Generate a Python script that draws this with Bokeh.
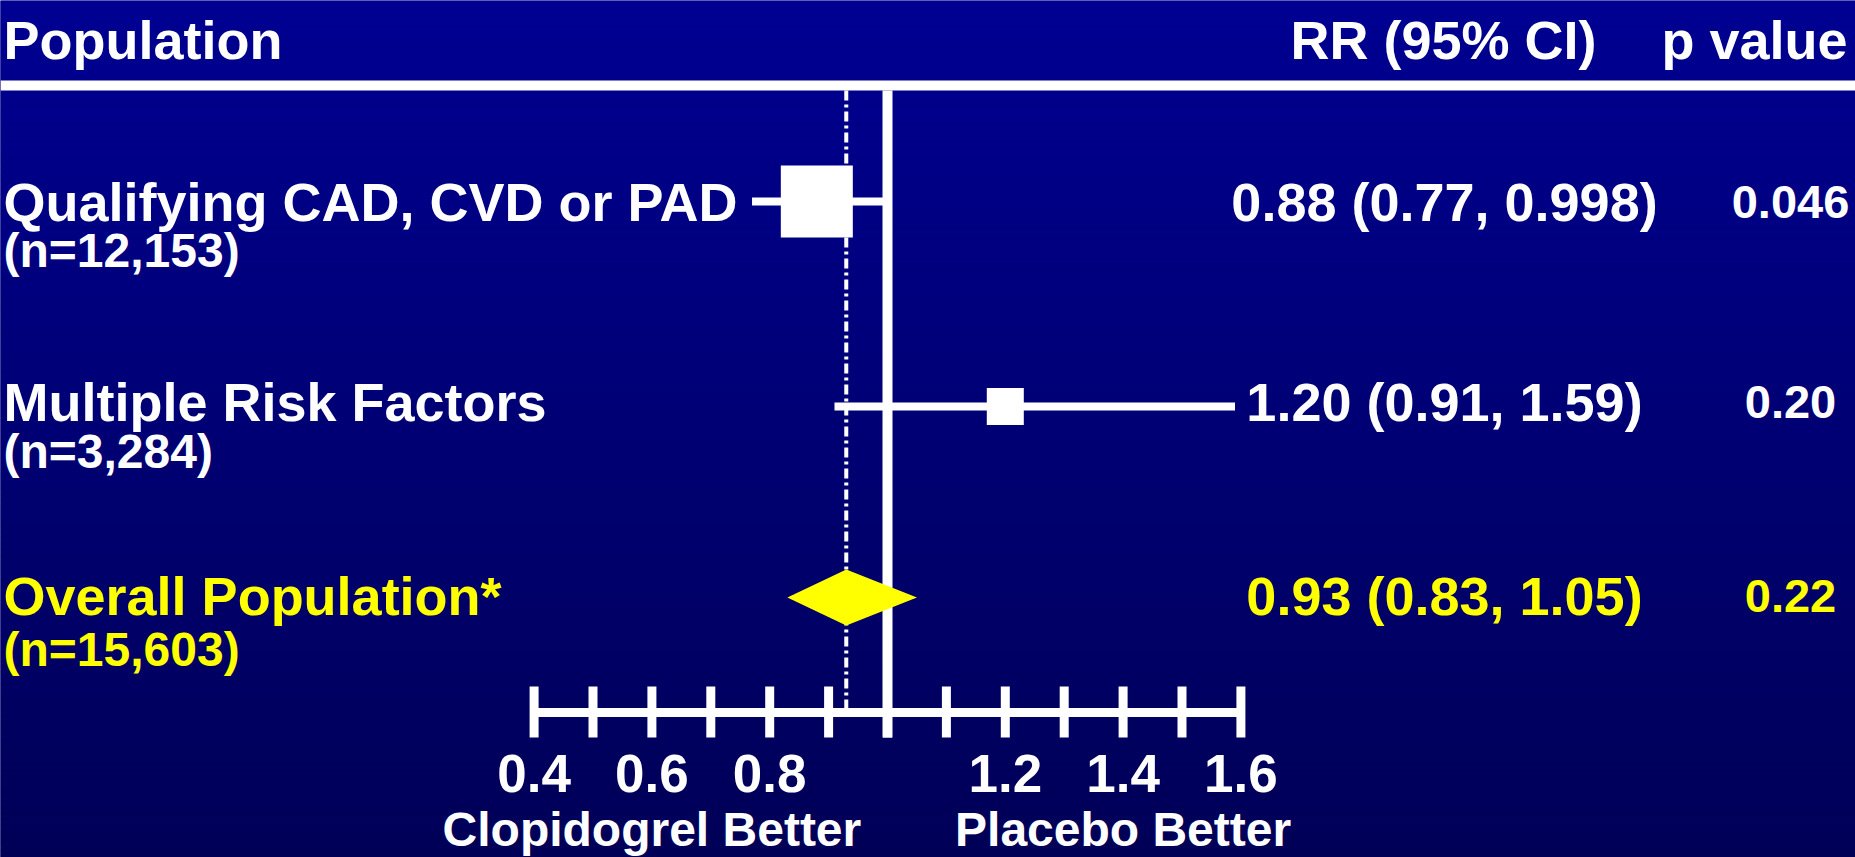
import numpy as np
from bokeh.plotting import figure
from bokeh.models import Range1d, Span
from bokeh.core.properties import value
from bokeh.embed import file_html
from bokeh.resources import INLINE

# ---------------- data ----------------
populations = ["Qualifying CAD, CVD or PAD", "Multiple Risk Factors", "Overall Population*"]
sample_sizes = ["(n=12,153)", "(n=3,284)", "(n=15,603)"]
rr = [0.88, 1.20, 0.93]
ci_low = [0.77, 0.91, 0.83]
ci_high = [0.998, 1.59, 1.05]
rr_labels = ["0.88 (0.77, 0.998)", "1.20 (0.91, 1.59)", "0.93 (0.83, 1.05)"]
p_values = ["0.046", "0.20", "0.22"]
axis_ticks = [0.4, 0.5, 0.6, 0.7, 0.8, 0.9, 1.0, 1.1, 1.2, 1.3, 1.4, 1.5, 1.6]
tick_label_values = [0.4, 0.6, 0.8, 1.2, 1.4, 1.6]
tick_labels = ["0.4", "0.6", "0.8", "1.2", "1.4", "1.6"]
headers = ["Population", "RR (95% CI)", "p value"]
direction_labels = ["Clopidogrel Better", "Placebo Better"]
direction_values = [0.6, 1.4]
reference_rr = 1.0

# ---------------- layout / style ----------------
W, H = 1855, 857
PX_ONE, PX_PER = 887.0, 589.0


def rx(px):
    """page pixel -> RR coordinate"""
    return 1 + (px - PX_ONE) / PX_PER


FONT = value("Liberation Sans")
WHITE = "#FFFFFF"
YELLOW = "#FFFF00"
row_colors = [WHITE, WHITE, YELLOW]
row_y = [201, 406, 597]
label_y = [201, 401, 595]
n_y = [250, 451, 649]
header_y = 39
box_px = [72, 37]
diamond_half_h = 28

p = figure(width=W, height=H, output_backend="svg", toolbar_location=None,
           x_range=Range1d(rx(0), rx(W)), y_range=Range1d(H, 0),
           x_axis_location=None, y_axis_location=None, min_border=0,
           outline_line_color=None, tools="")
p.grid.visible = False
p.background_fill_color = "#000078"
p.border_fill_color = "#000078"

# background gradient (decorative)
n_strips = 140
edges = np.linspace(0, H + 2, n_strips + 1)
top_c = np.array([0, 0, 146])
bot_c = np.array([0, 0, 86])
cols = []
for i in range(n_strips):
    t = i / (n_strips - 1)
    c = top_c + (bot_c - top_c) * t
    cols.append("#%02x%02x%02x" % tuple(int(round(v)) for v in c))
p.quad(left=rx(-5), right=rx(W + 5), top=edges[:-1], bottom=edges[1:],
       fill_color=cols, line_color=None)

# header rule
p.add_layout(Span(location=85, dimension="width", line_color=WHITE, line_width=10))

# dotted line at overall RR
p.segment(x0=[rr[2]], x1=[rr[2]], y0=[90], y1=[712], line_color=WHITE,
          line_width=4, line_dash="10 4 3 4")
# line of no effect
p.segment(x0=[reference_rr], x1=[reference_rr], y0=[90], y1=[737],
          line_color=WHITE, line_width=10)

# axis
p.segment(x0=[axis_ticks[0]], x1=[axis_ticks[-1]], y0=[712], y1=[712],
          line_color=WHITE, line_width=9)
p.segment(x0=axis_ticks, x1=axis_ticks, y0=[686] * len(axis_ticks),
          y1=[737] * len(axis_ticks), line_color=WHITE, line_width=9)

# CI lines and boxes (first two rows)
p.segment(x0=ci_low[:2], x1=ci_high[:2], y0=row_y[:2], y1=row_y[:2],
          line_color=WHITE, line_width=8)
p.scatter(x=rr[:2], y=row_y[:2], marker="square", size=box_px,
          fill_color=WHITE, line_color=None)

# overall diamond
yd = row_y[2]
p.patch(x=[ci_low[2], rr[2], ci_high[2], rr[2]],
        y=[yd, yd - diamond_half_h, yd, yd + diamond_half_h],
        fill_color=YELLOW, line_color=None)

common = dict(text_font=FONT, text_font_style="bold", text_baseline="alphabetic")

# headers
p.text(x=[rx(3)], y=[header_y], text=[headers[0]], text_color=WHITE,
       text_font_size="54px", text_align="left", **common)
p.text(x=[rx(1443)], y=[header_y], text=[headers[1]], text_color=WHITE,
       text_font_size="54px", text_align="center", **common)
p.text(x=[rx(1754)], y=[header_y], text=[headers[2]], text_color=WHITE,
       text_font_size="54px", text_align="center", **common)

# row labels
p.text(x=[rx(3)] * 3, y=label_y, text=populations, text_color=row_colors,
       text_font_size="54px", text_align="left", **common)
p.text(x=[rx(3)] * 3, y=n_y, text=sample_sizes, text_color=row_colors,
       text_font_size="48px", text_align="left", **common)

# stats columns
p.text(x=[rx(1444)] * 3, y=label_y, text=rr_labels, text_color=row_colors,
       text_font_size="54px", text_align="center", **common)
p.text(x=[rx(1790)] * 3, y=label_y, text=p_values, text_color=row_colors,
       text_font_size="47px", text_align="center", **common)

# tick labels
p.text(x=tick_label_values, y=[773] * len(tick_labels), text=tick_labels,
       text_color=WHITE, text_font_size="53px", text_align="center", **common)

# direction labels
p.text(x=direction_values, y=[829] * 2, text=direction_labels, text_color=WHITE,
       text_font_size="48px", text_align="center", **common)

open("out.html", "w").write(file_html(p, INLINE))
